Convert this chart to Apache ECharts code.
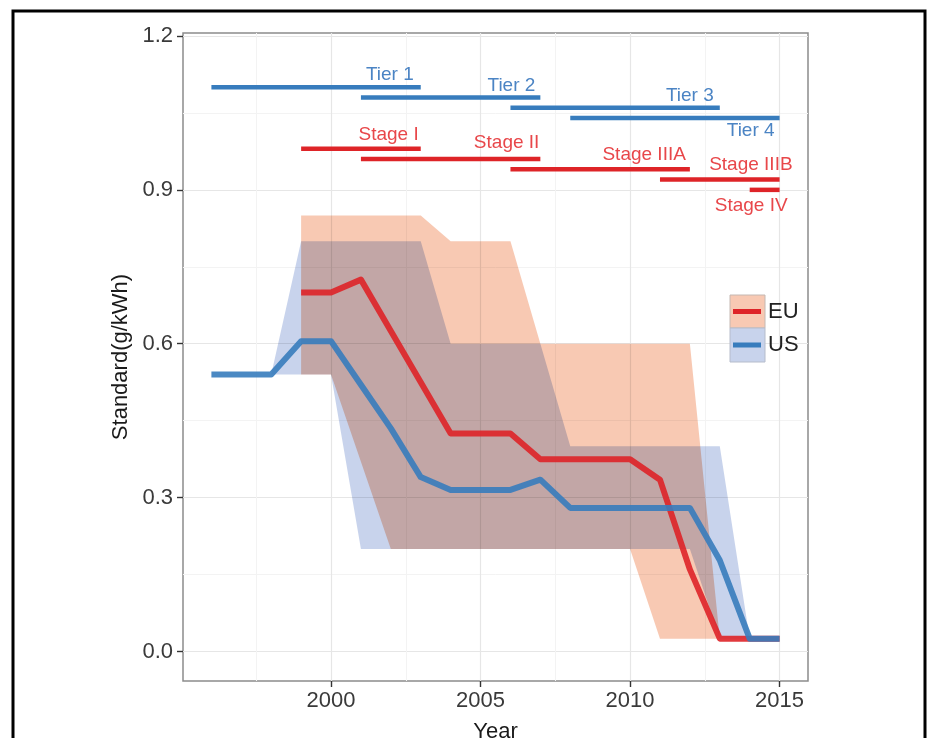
<!DOCTYPE html>
<html>
<head>
<meta charset="utf-8">
<script src="https://cdn.jsdelivr.net/npm/echarts@6/dist/echarts.min.js"></script>
<style>
  html, body { margin: 0; padding: 0; background: #fff; }
  #chart { width: 938px; height: 738px; }
</style>
</head>
<body>
<div id="chart"></div>
<script>
// ---- Emission standards (g/kWh) by year ----
const euYears = [1999, 2000, 2001, 2002, 2003, 2004, 2005, 2006, 2007, 2008, 2009, 2010, 2011, 2012, 2013, 2014, 2015];
const euMean  = [0.70, 0.70, 0.725, 0.625, 0.525, 0.425, 0.425, 0.425, 0.375, 0.375, 0.375, 0.375, 0.335, 0.16, 0.025, 0.025, 0.025];
const euLow   = [0.54, 0.54, 0.37, 0.20, 0.20, 0.20, 0.20, 0.20, 0.20, 0.20, 0.20, 0.20, 0.025, 0.025, 0.025, 0.025, 0.025];
const euHigh  = [0.85, 0.85, 0.85, 0.85, 0.85, 0.80, 0.80, 0.80, 0.60, 0.60, 0.60, 0.60, 0.60, 0.60, 0.025, 0.025, 0.025];

const usYears = [1996, 1997, 1998, 1999, 2000, 2001, 2002, 2003, 2004, 2005, 2006, 2007, 2008, 2009, 2010, 2011, 2012, 2013, 2014, 2015];
const usMean  = [0.54, 0.54, 0.54, 0.605, 0.605, 0.52, 0.435, 0.34, 0.315, 0.315, 0.315, 0.335, 0.28, 0.28, 0.28, 0.28, 0.28, 0.178, 0.025, 0.025];
const usLow   = [0.54, 0.54, 0.54, 0.54, 0.54, 0.20, 0.20, 0.20, 0.20, 0.20, 0.20, 0.20, 0.20, 0.20, 0.20, 0.20, 0.20, 0.025, 0.025, 0.025];
const usHigh  = [0.54, 0.54, 0.54, 0.80, 0.80, 0.80, 0.80, 0.80, 0.60, 0.60, 0.60, 0.60, 0.40, 0.40, 0.40, 0.40, 0.40, 0.40, 0.025, 0.025];

// ---- Regulation phases (start year, end year, level) ----
const tierNames  = ['Tier 1', 'Tier 2', 'Tier 3', 'Tier 4'];
const tierStart  = [1996, 2001, 2006, 2008];
const tierEnd    = [2003, 2007, 2013, 2015];
const tierLevel  = [1.10, 1.08, 1.06, 1.04];

const stageNames = ['Stage I', 'Stage II', 'Stage IIIA', 'Stage IIIB', 'Stage IV'];
const stageStart = [1999, 2001, 2006, 2011, 2014];
const stageEnd   = [2003, 2007, 2012, 2015, 2015];
const stageLevel = [0.98, 0.96, 0.94, 0.92, 0.90];

// ---- Axis ticks ----
const xTicks = [2000, 2005, 2010, 2015];
const xMinor = [1997.5, 2002.5, 2007.5, 2012.5];
const yTicks = [0, 0.3, 0.6, 0.9, 1.2];
const yMinor = [0.15, 0.45, 0.75, 1.05];

// ---- Styling ----
const FONT = '"Liberation Sans", Arial, sans-serif';
const X_MIN = 1995.05, X_MAX = 2015.95;
const Y_MIN = -0.0575, Y_MAX = 1.2058;
const EU_LINE = '#de2428', US_LINE = '#377cbd';
const EU_FILL = '#f8c9b3', US_FILL = '#c8d3ec';
const TIER_TEXT = '#4b84c4', STAGE_TEXT = '#e8474a';
// label placement relative to the right end of each phase bar [dx, dy] in px
const tierLabelOffset  = [[-7, -13], [-5, -12], [-6, -12], [-5, 13]];
const stageLabelOffset = [[-2, -14], [-1, -16], [-4, -15], [13, -15], [8, 16]];

function ribbon(name, yrs, low, high, fill) {
  return {
    type: 'custom',
    name: name,
    silent: true,
    blendMode: 'multiply',
    xAxisIndex: 0, yAxisIndex: 0,
    data: yrs.map((y, i) => [y, low[i], high[i]]),
    encode: { x: 0, y: [1, 2] },
    renderItem(params, api) {
      if (params.dataIndex !== 0) return null;
      const upper = [], lower = [];
      for (let i = 0; i < yrs.length; i++) {
        upper.push(api.coord([yrs[i], high[i]]));
        lower.push(api.coord([yrs[i], low[i]]));
      }
      return {
        type: 'polygon',
        shape: { points: upper.concat(lower.reverse()) },
        style: { fill: fill }
      };
    }
  };
}

function phases(names, start, end, level, color, textColor, offsets) {
  return {
    type: 'custom',
    silent: true,
    xAxisIndex: 0, yAxisIndex: 0,
    data: start.map((s, i) => [s, end[i], level[i]]),
    encode: { x: [0, 1], y: 2 },
    renderItem(params, api) {
      const i = params.dataIndex;
      const a = api.coord([api.value(0), api.value(2)]);
      const b = api.coord([api.value(1), api.value(2)]);
      return {
        type: 'group',
        children: [
          { type: 'line', shape: { x1: a[0], y1: a[1], x2: b[0], y2: b[1] },
            style: { stroke: color, lineWidth: 4.5, lineCap: 'butt' } },
          { type: 'text', x: b[0] + offsets[i][0], y: b[1] + offsets[i][1],
            style: { text: names[i], fill: textColor, font: '19px ' + FONT,
                     align: 'right', verticalAlign: 'middle',
                     textAlign: 'right', textVerticalAlign: 'middle' } }
        ]
      };
    }
  };
}

function meanLine(name, yrs, vals, color) {
  return {
    type: 'line',
    name: name,
    silent: true,
    xAxisIndex: 0, yAxisIndex: 0,
    data: yrs.map((y, i) => [y, vals[i]]),
    showSymbol: false,
    symbol: 'none',
    lineStyle: { color: color, width: 6, cap: 'butt', join: 'round', opacity: 0.9 },
    itemStyle: { color: color }
  };
}

const chart = echarts.init(document.getElementById('chart'), null, { renderer: 'canvas' });

const option = {
  backgroundColor: '#ffffff',
  animation: false,
  grid: {
    left: 183, right: 130, top: 33, bottom: 57,
    outerBoundsMode: 'none', containLabel: false,
    show: true, borderColor: '#8c8c8c', borderWidth: 1.5, backgroundColor: 'transparent'
  },
  xAxis: [
    {
      type: 'value', min: X_MIN, max: X_MAX,
      name: 'Year', nameLocation: 'middle', nameGap: 40,
      nameTextStyle: { fontSize: 22, color: '#1a1a1a', fontFamily: FONT },
      axisLine: { show: false, onZero: false },
      axisTick: { show: true, customValues: xTicks, length: 6, lineStyle: { color: '#333', width: 1.4 } },
      axisLabel: { customValues: xTicks, fontSize: 22, color: '#3a3a3a', margin: 9, fontFamily: FONT,
                   formatter: v => String(Math.round(v)) },
      splitLine: { show: true, lineStyle: { color: '#e6e6e6', width: 1.2 } }
    },
    {
      type: 'value', min: X_MIN, max: X_MAX, position: 'bottom',
      axisLine: { show: false, onZero: false },
      axisTick: { show: false, customValues: xMinor },
      axisLabel: { show: false, customValues: xMinor },
      splitLine: { show: true, lineStyle: { color: '#f3f3f3', width: 1 } }
    }
  ],
  yAxis: [
    {
      type: 'value', min: Y_MIN, max: Y_MAX,
      name: 'Standard(g/kWh)', nameLocation: 'middle', nameGap: 34,
      nameTextStyle: { fontSize: 22, color: '#1a1a1a', fontFamily: FONT },
      axisLine: { show: false, onZero: false },
      axisTick: { show: true, customValues: yTicks, length: 6, lineStyle: { color: '#333', width: 1.4 } },
      axisLabel: { customValues: yTicks, fontSize: 22, color: '#3a3a3a', margin: 10, fontFamily: FONT,
                   formatter: v => v.toFixed(1) },
      splitLine: { show: true, lineStyle: { color: '#e6e6e6', width: 1.2 } }
    },
    {
      type: 'value', min: Y_MIN, max: Y_MAX, position: 'left',
      axisLine: { show: false, onZero: false },
      axisTick: { show: false, customValues: yMinor },
      axisLabel: { show: false, customValues: yMinor },
      splitLine: { show: true, lineStyle: { color: '#f3f3f3', width: 1 } }
    }
  ],
  series: [
    ribbon('EU range', euYears, euLow, euHigh, EU_FILL),
    ribbon('US range', usYears, usLow, usHigh, US_FILL),
    meanLine('EU', euYears, euMean, EU_LINE),
    meanLine('US', usYears, usMean, US_LINE),
    phases(tierNames, tierStart, tierEnd, tierLevel, US_LINE, TIER_TEXT, tierLabelOffset),
    phases(stageNames, stageStart, stageEnd, stageLevel, EU_LINE, STAGE_TEXT, stageLabelOffset)
  ],
  graphic: [
    // outer frame
    { type: 'rect', shape: { x: 13, y: 11, width: 912, height: 760 },
      style: { fill: null, stroke: '#000', lineWidth: 3 }, silent: true, z: 100 },
    // legend keys
    { type: 'rect', shape: { x: 730, y: 295, width: 35, height: 33 },
      style: { fill: EU_FILL, stroke: '#c4b8b2', lineWidth: 1 }, z: 50 },
    { type: 'rect', shape: { x: 730, y: 328, width: 35, height: 34 },
      style: { fill: US_FILL, stroke: '#b6bccb', lineWidth: 1 }, z: 50 },
    { type: 'line', shape: { x1: 733, y1: 311.5, x2: 761, y2: 311.5 },
      style: { stroke: EU_LINE, lineWidth: 5 }, z: 51 },
    { type: 'line', shape: { x1: 733, y1: 345, x2: 761, y2: 345 },
      style: { stroke: US_LINE, lineWidth: 5 }, z: 51 },
    { type: 'text', x: 768, y: 312, z: 51,
      style: { text: 'EU', fill: '#222', font: '22px ' + FONT, textVerticalAlign: 'middle', verticalAlign: 'middle' } },
    { type: 'text', x: 768, y: 345, z: 51,
      style: { text: 'US', fill: '#222', font: '22px ' + FONT, textVerticalAlign: 'middle', verticalAlign: 'middle' } }
  ]
};

chart.setOption(option);
</script>
</body>
</html>
